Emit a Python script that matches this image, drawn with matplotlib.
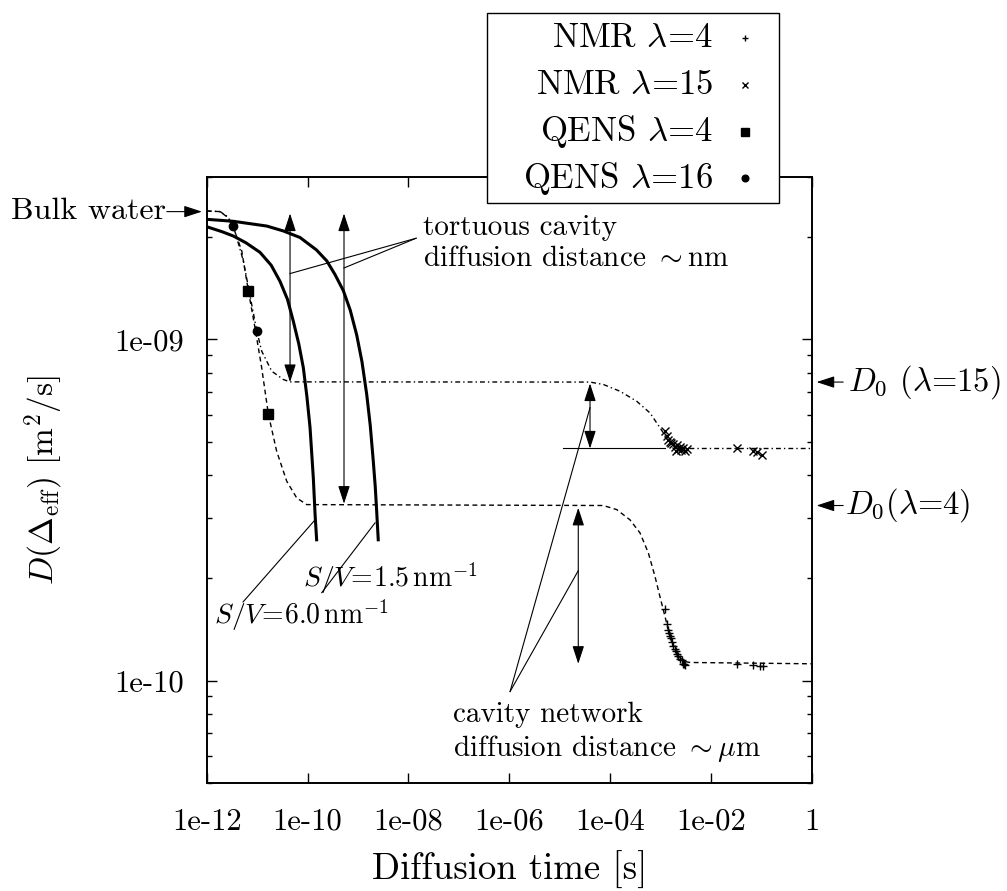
import matplotlib
matplotlib.use("Agg")
import matplotlib.pyplot as plt
from matplotlib.patches import Rectangle
from matplotlib.lines import Line2D
from matplotlib.ticker import FixedLocator, FixedFormatter, LogLocator, NullLocator, NullFormatter

plt.rcParams["font.family"] = "serif"
plt.rcParams["font.serif"] = ["cmr10"]
plt.rcParams["mathtext.fontset"] = "cm"
plt.rcParams["axes.unicode_minus"] = False
plt.rcParams["axes.formatter.use_mathtext"] = True

# ---- model curves: D(t) in m^2/s versus diffusion time in s ----
t_lam4 = [1e-12, 1.84e-12, 2.6e-12, 3.37e-12, 4.94e-12, 6.68e-12, 9.08e-12, 1.23e-11, 1.67e-11,
          2.44e-11, 3.86e-11, 6.10e-11, 9.62e-11, 7.35e-5, 1.36e-4, 2.48e-4, 3.92e-4,
          5.73e-4, 7.78e-4, 9.77e-4, 1.23e-3, 1.54e-3, 2.10e-3, 2.84e-3, 3.85e-3, 1.0]
D_lam4 = [2.38e-9, 2.37e-9, 2.28e-9, 2.13e-9, 1.82e-9, 1.39e-9, 1.08e-9, 8.26e-10, 6.03e-10,
          4.70e-10, 3.84e-10, 3.43e-10, 3.28e-10, 3.26e-10, 3.17e-10, 2.96e-10, 2.71e-10,
          2.37e-10, 2.02e-10, 1.76e-10, 1.54e-10, 1.35e-10, 1.20e-10, 1.14e-10, 1.13e-10, 1.12e-10]

t_lam15 = [1e-12, 1.84e-12, 2.6e-12, 3.37e-12, 5.32e-12, 9.82e-12, 1.23e-11, 1.95e-11, 3.31e-11,
           4.49e-11, 4.00e-5, 7.35e-5, 1.57e-4, 3.37e-4, 6.19e-4, 9.77e-4, 1.33e-3,
           1.80e-3, 2.84e-3, 3.85e-3, 1.0]
D_lam15 = [2.38e-9, 2.37e-9, 2.29e-9, 2.15e-9, 1.70e-9, 1.06e-9, 9.24e-10, 8.07e-10, 7.63e-10,
           7.51e-10, 7.50e-10, 7.38e-10, 7.05e-10, 6.59e-10, 6.09e-10, 5.51e-10, 5.14e-10,
           4.92e-10, 4.81e-10, 4.79e-10, 4.79e-10]

# short-time surface-to-volume limits
t_sv15 = [1e-12, 3.37e-12, 1.55e-11, 3.3e-11, 7.08e-11, 1.5e-10, 2.40e-10, 3.5e-10, 5.12e-10,
          7.0e-10, 9.44e-10, 1.2e-9, 1.49e-9, 1.75e-9, 2.01e-9, 2.2e-9, 2.35e-9, 2.53e-9]
D_sv15 = [2.25e-9, 2.22e-9, 2.15e-9, 2.08e-9, 1.99e-9, 1.83e-9, 1.70e-9, 1.55e-9, 1.39e-9,
          1.22e-9, 1.03e-9, 8.6e-10, 6.90e-10, 5.6e-10, 4.40e-10, 3.7e-10, 3.13e-10, 2.56e-10]
t_sv60 = [1e-12, 2e-12, 3.37e-12, 6e-12, 1.14e-11, 1.9e-11, 2.84e-11, 4e-11, 5.22e-11, 6.7e-11,
          8.24e-11, 9.7e-11, 1.12e-10, 1.30e-10, 1.41e-10, 1.52e-10]
D_sv60 = [2.14e-9, 2.07e-9, 2.01e-9, 1.92e-9, 1.80e-9, 1.65e-9, 1.48e-9, 1.31e-9, 1.13e-9, 9.7e-10,
          8.26e-10, 6.8e-10, 5.51e-10, 3.93e-10, 3.06e-10, 2.56e-10]

# ---- measurements ----
nmr4_t = [1.23e-3, 1.33e-3, 1.43e-3, 1.48e-3, 1.54e-3, 1.60e-3, 1.67e-3, 1.80e-3, 1.90e-3,
          2.03e-3, 2.15e-3, 2.26e-3, 2.45e-3, 2.64e-3, 2.84e-3, 2.95e-3, 3.06e-3,
          3.25e-2, 6.93e-2, 9.42e-2, 1.09e-1]
nmr4_D = [1.62e-10, 1.47e-10, 1.41e-10, 1.38e-10, 1.35e-10, 1.33e-10, 1.30e-10, 1.26e-10, 1.24e-10,
          1.22e-10, 1.20e-10, 1.18e-10, 1.16e-10, 1.15e-10, 1.12e-10, 1.12e-10, 1.11e-10,
          1.12e-10, 1.11e-10, 1.10e-10, 1.10e-10]

nmr15_t = [1.23e-3, 1.33e-3, 1.43e-3, 1.54e-3, 1.65e-3, 1.80e-3, 1.95e-3, 2.00e-3, 2.10e-3,
           2.25e-3, 2.44e-3, 2.60e-3, 2.84e-3, 3.06e-3, 3.31e-3,
           3.25e-2, 6.93e-2, 8.11e-2, 1.02e-1]
nmr15_D = [5.38e-10, 5.20e-10, 5.08e-10, 5.02e-10, 4.98e-10, 4.95e-10, 4.85e-10, 4.72e-10, 4.89e-10,
           4.78e-10, 4.84e-10, 4.74e-10, 4.81e-10, 4.70e-10, 4.76e-10,
           4.79e-10, 4.72e-10, 4.67e-10, 4.59e-10]

qens4_t = [6.68e-12, 1.67e-11]
qens4_D = [1.39e-9, 6.03e-10]
qens16_t = [3.37e-12, 9.82e-12]
qens16_D = [2.15e-9, 1.06e-9]

# reference levels
D_bulk = 2.37e-9
D0_lam15 = 7.50e-10
D0_lam4 = 3.26e-10
Dinf_lam15 = 4.79e-10
Dinf_lam4 = 1.12e-10

x_ticks = [1e-12, 1e-10, 1e-8, 1e-6, 1e-4, 1e-2, 1.0]
x_ticklabels = ["1e-12", "1e-10", "1e-08", "1e-06", "1e-04", "1e-02", "1"]
y_ticks = [1e-10, 1e-9]
y_ticklabels = ["1e-10", "1e-09"]

fig = plt.figure(figsize=(10.07, 8.91), dpi=100)
ax = fig.add_axes([0.2053, 0.1209, 0.6008, 0.6808])
ax.set_xscale("log")
ax.set_yscale("log")
ax.set_xlim(1e-12, 1.0)
ax.set_ylim(5e-11, 3e-9)

lw_thin = 1.0
ax.plot(t_lam4, D_lam4, color="black", lw=lw_thin, dashes=(3.5, 2.5))
ax.plot(t_lam15, D_lam15, color="black", lw=lw_thin, dashes=(3.5, 2.2, 1.0, 2.2))
ax.plot(t_sv15, D_sv15, color="black", lw=2.2, solid_capstyle="butt", solid_joinstyle="round")
ax.plot(t_sv60, D_sv60, color="black", lw=2.2, solid_capstyle="butt", solid_joinstyle="round")

ms = dict(color="black", linestyle="none")
h_nmr4, = ax.plot(nmr4_t, nmr4_D, marker="+", markersize=6, mew=1.0, **ms)
h_nmr15, = ax.plot(nmr15_t, nmr15_D, marker="x", markersize=6, mew=1.0, **ms)
h_q4, = ax.plot(qens4_t, qens4_D, marker="s", markersize=6.5, **ms)
h_q16, = ax.plot(qens16_t, qens16_D, marker="o", markersize=6.0, **ms)

# horizontal guide at the long-time level of lambda=15
ax.plot([1.18e-5, 1.23e-3], [Dinf_lam15, Dinf_lam15], color="black", lw=0.8)

# double arrows
dbl = dict(arrowstyle="<|-|>,head_length=0.55,head_width=0.18", color="black",
           lw=0.8, shrinkA=0, shrinkB=0, mutation_scale=20)
arrow_top = 2.34e-9
arrows = [(4.49e-11, arrow_top, D0_lam15),
          (5.28e-10, arrow_top, 3.30e-10),
          (4.00e-5, 7.43e-10, Dinf_lam15),
          (2.34e-5, 3.21e-10, Dinf_lam4)]
for xa, ytop, ybot in arrows:
    ax.annotate("", xy=(xa, ybot), xytext=(xa, ytop), arrowprops=dbl)

# pointer lines
ln = dict(color="black", lw=0.8)
ax.plot([1.42e-8, 4.49e-11], [1.98e-9, 1.56e-9], **ln)
ax.plot([1.42e-8, 5.28e-10], [1.98e-9, 1.62e-9], **ln)
ax.plot([1.04e-6, 4.00e-5], [9.29e-11, 6.31e-10], **ln)
ax.plot([1.04e-6, 2.34e-5], [9.29e-11, 2.10e-10], **ln)
ax.plot([2.18e-9, 1.91e-10], [2.90e-10, 1.81e-10], **ln)
ax.plot([1.41e-10, 5.25e-12], [2.96e-10, 1.70e-10], **ln)

fs_ann = 21
ax.text(1.92e-8, 2.12e-9, "tortuous cavity", fontsize=fs_ann, ha="left", va="center")
ax.text(1.92e-8, 1.72e-9, r"diffusion distance $\sim$nm", fontsize=fs_ann, ha="left", va="center")
ax.text(7.57e-8, 7.93e-11, "cavity network", fontsize=fs_ann, ha="left", va="center")
ax.text(7.57e-8, 6.34e-11, r"diffusion distance $\sim\mu$m", fontsize=fs_ann, ha="left", va="center")
ax.text(8.24e-11, 1.99e-10, r"$S/V\!=\!1.5\,\mathrm{nm}^{-1}$", fontsize=20, ha="left", va="center")
ax.text(1.40e-12, 1.56e-10, r"$S/V\!=\!6.0\,\mathrm{nm}^{-1}$", fontsize=20, ha="left", va="center")

# labels outside the frame
side = ax.get_yaxis_transform()
one = dict(arrowstyle="-|>,head_length=0.55,head_width=0.18", color="black",
           lw=0.8, shrinkA=0, shrinkB=0, mutation_scale=20)
ax.annotate("", xy=(-0.008, D_bulk), xytext=(-0.066, D_bulk), xycoords=side,
            textcoords=side, arrowprops=one, annotation_clip=False)
ax.text(-0.068, D_bulk, "Bulk water", transform=side, fontsize=23, ha="right", va="center")
ax.annotate("", xy=(1.008, D0_lam15), xytext=(1.052, D0_lam15), xycoords=side,
            textcoords=side, arrowprops=one, annotation_clip=False)
ax.text(1.060, D0_lam15, r"$D_0$ ($\lambda$=15)", transform=side, fontsize=23.5,
        ha="left", va="center")
ax.annotate("", xy=(1.008, D0_lam4), xytext=(1.052, D0_lam4), xycoords=side,
            textcoords=side, arrowprops=one, annotation_clip=False)
ax.text(1.055, D0_lam4, r"$D_0$($\lambda$=4)", transform=side, fontsize=23.5,
        ha="left", va="center")

# axes styling
ax.xaxis.set_major_locator(FixedLocator(x_ticks))
ax.xaxis.set_major_formatter(FixedFormatter(x_ticklabels))
ax.xaxis.set_minor_locator(NullLocator())
ax.yaxis.set_major_locator(FixedLocator(y_ticks))
ax.yaxis.set_major_formatter(FixedFormatter(y_ticklabels))
ax.yaxis.set_minor_locator(LogLocator(base=10, subs=range(2, 10)))
ax.yaxis.set_minor_formatter(NullFormatter())
ax.tick_params(which="both", direction="in", top=True, right=True, width=1.0)
ax.tick_params(which="major", length=7)
ax.tick_params(which="minor", length=3.5)
ax.tick_params(axis="x", labelsize=22, pad=18)
ax.tick_params(axis="y", labelsize=22, pad=16)
for s in ax.spines.values():
    s.set_linewidth(1.4)

ax.set_xlabel("Diffusion time [s]", fontsize=26.5, labelpad=11)
ax.set_ylabel(r"$D(\Delta_{\rm eff})$ [m$^2$/s]", fontsize=24)
ax.yaxis.set_label_coords(-0.232, 0.5)

# legend box drawn over the frame
box = Rectangle((0.4836, 0.7722), 0.2900, 0.2135, transform=fig.transFigure,
                facecolor="white", edgecolor="black", lw=1.0, zorder=5)
fig.add_artist(box)
entries = [(r"NMR $\lambda$=4", h_nmr4), (r"NMR $\lambda$=15", h_nmr15),
           (r"QENS $\lambda$=4", h_q4), (r"QENS $\lambda$=16", h_q16)]
rows = [0.9574, 0.9046, 0.8519, 0.8002]
for (lab, h), yy in zip(entries, rows):
    fig.text(0.708, yy, lab, fontsize=25, ha="right", va="center", zorder=6)
    mk = Line2D([0.7398], [yy], transform=fig.transFigure, marker=h.get_marker(),
                markersize=h.get_markersize() * 0.8, mew=h.get_markeredgewidth(),
                color="black", linestyle="none", zorder=6)
    fig.add_artist(mk)

fig.savefig("out.png", dpi=100)
